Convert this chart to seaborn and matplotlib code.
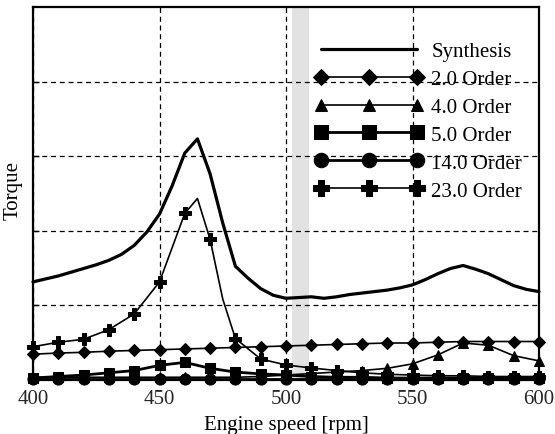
import numpy as np
import pandas as pd
import matplotlib
matplotlib.use("Agg")
import matplotlib.pyplot as plt
import seaborn as sns

# ---------------- data ----------------
rpm_syn = [400, 405, 410, 415, 420, 425, 430, 435, 440, 445, 450, 455, 460, 465, 470,
           475, 480, 485, 490, 495, 500, 505, 510, 515, 520, 525, 530, 535, 540, 545,
           550, 555, 560, 565, 570, 575, 580, 585, 590, 595, 600]
synthesis = [1.31, 1.35, 1.39, 1.44, 1.49, 1.54, 1.60, 1.68, 1.80, 1.98, 2.22, 2.60, 3.04, 3.23, 2.76,
             2.10, 1.52, 1.36, 1.22, 1.13, 1.09, 1.10, 1.11, 1.09, 1.11, 1.14, 1.16, 1.18, 1.20, 1.23,
             1.27, 1.34, 1.42, 1.49, 1.53, 1.48, 1.42, 1.34, 1.26, 1.21, 1.18]

rpm = [400, 410, 420, 430, 440, 450, 460, 470, 480, 490, 500, 510, 520, 530, 540, 550,
       560, 570, 580, 590, 600]
order2 = [0.34, 0.355, 0.365, 0.38, 0.39, 0.40, 0.41, 0.42, 0.43, 0.44, 0.45, 0.46, 0.47, 0.48, 0.49, 0.49,
          0.50, 0.51, 0.51, 0.51, 0.51]
order4 = [0.03, 0.03, 0.03, 0.03, 0.03, 0.03, 0.03, 0.03, 0.03, 0.04, 0.06, 0.08, 0.10, 0.12, 0.15, 0.21,
          0.33, 0.49, 0.46, 0.32, 0.25]
order5 = [0.02, 0.04, 0.06, 0.09, 0.12, 0.19, 0.23, 0.15, 0.10, 0.075, 0.06, 0.04, 0.03, 0.03, 0.02, 0.02,
          0.02, 0.02, 0.02, 0.02, 0.02]
order14 = [0.01, 0.01, 0.01, 0.01, 0.01, 0.01, 0.01, 0.01, 0.01, 0.01, 0.01, 0.01, 0.01, 0.01, 0.01, 0.01,
           0.01, 0.01, 0.01, 0.01, 0.01]
rpm23 = [400, 410, 420, 430, 440, 450, 460, 465, 470, 475, 480, 490, 500, 510, 520, 530, 540, 550,
         560, 570, 580, 590, 600]
order23 = [0.44, 0.50, 0.54, 0.67, 0.88, 1.31, 2.23, 2.43, 1.88, 1.08, 0.55, 0.275, 0.195, 0.155, 0.12, 0.09,
           0.07, 0.06, 0.05, 0.05, 0.04, 0.04, 0.04]

xticks = [400, 450, 500, 550, 600]
band = (502.5, 509)

# ---------------- style ----------------
sns.set_theme(style="white")
plt.rcParams["font.family"] = ["Liberation Serif", "DejaVu Serif"]

fig = plt.figure(figsize=(5.55, 4.35), dpi=100)
ax = fig.add_axes([33 / 555, 1 - 380.5 / 435, (539 - 33) / 555, (380.5 - 8) / 435])

ax.axvspan(band[0], band[1], color="#e2e2e2", lw=0, zorder=0)

common = dict(ax=ax, color="black", clip_on=False, legend=False)

sns.lineplot(x=rpm_syn, y=synthesis, lw=2.3, label="Synthesis", **common)
sns.lineplot(x=rpm, y=order2, lw=1.2, marker="D", markersize=6.5, label="2.0 Order", **common)
sns.lineplot(x=rpm, y=order4, lw=1.2, marker="^", markersize=7, label="4.0 Order", **common)
sns.lineplot(x=rpm, y=order5, lw=2.0, marker="s", markersize=7.5, label="5.0 Order", **common)
sns.lineplot(x=rpm, y=order14, lw=2.0, marker="o", markersize=8, label="14.0 Order", **common)
mk23 = [i for i, v in enumerate(rpm23) if v % 10 == 0]
sns.lineplot(x=rpm23, y=order23, lw=1.2, marker="P", markersize=8.5, markevery=mk23,
             label="23.0 Order", **common)

for ln in ax.lines:
    ln.set_markeredgecolor("black")
    ln.set_markerfacecolor("black")

ax.set_xlim(400, 600)
ax.set_ylim(0, 5)
ax.set_xticks(xticks)
ax.set_xticklabels([str(v) for v in xticks])
ax.set_yticks([1, 2, 3, 4])
ax.set_yticklabels([])
ax.grid(True, color="black", linestyle=(0, (4, 3)), lw=0.9)
ax.tick_params(axis="both", direction="in", length=4, width=1, labelsize=15, pad=7,
               bottom=True, left=True, color="black")
ax.tick_params(axis="x", length=0)
for s in ax.spines.values():
    s.set_color("black")
    s.set_linewidth(1.6)

ax.set_xlabel("Engine speed [rpm]", fontsize=15, labelpad=5, color="black")
ax.set_ylabel("Torque", fontsize=15, color="black")
ax.yaxis.set_label_coords(-0.021, 0.51)

handles, labels = ax.get_legend_handles_labels()
leg = ax.legend(handles, labels, loc="upper left", bbox_to_anchor=(0.54, 0.93),
                frameon=False, fontsize=15, numpoints=3, handlelength=5.2, markerscale=1.3,
                handletextpad=0.4, labelspacing=0.4, borderaxespad=0)
for t in leg.get_texts():
    t.set_color("black")

fig.savefig("out.png", dpi=100)
